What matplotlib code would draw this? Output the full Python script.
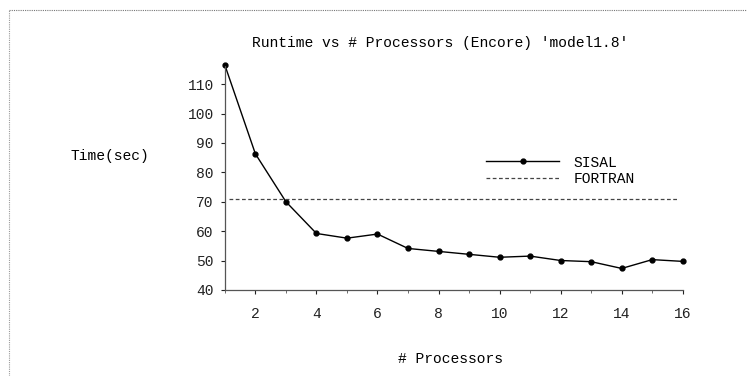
import matplotlib
matplotlib.use('Agg')
import matplotlib.pyplot as plt
from matplotlib.lines import Line2D

processors = [1, 2, 3, 4, 5, 6, 7, 8, 9, 10, 11, 12, 13, 14, 15, 16]
sisal_time = [116.5, 86.3, 70.0, 59.2, 57.6, 59.0, 54.1, 53.1, 52.1, 51.1, 51.5, 50.0, 49.6, 47.3, 50.3, 49.7]
fortran_time = 70.8
y_ticks = [40, 50, 60, 70, 80, 90, 100, 110]
x_ticks = [2, 4, 6, 8, 10, 12, 14, 16]

plt.rcParams['font.family'] = ['Liberation Mono', 'DejaVu Sans Mono']
fs = 10.5

fig = plt.figure(figsize=(7.47, 3.76), dpi=100)
ax = fig.add_axes([0.301, 0.229, 0.613, 0.598])

ax.plot(processors, sisal_time, color='black', lw=1, marker='o', ms=3.5, clip_on=False)
ax.axhline(fortran_time, xmin=0.01, xmax=0.99, color='#444444', lw=0.9, ls=(0, (3, 2)))

ax.set_xlim(1, 16)
ax.set_ylim(40, 116.5)
ax.set_xticks(x_ticks)
ax.set_xticklabels([str(v) for v in x_ticks], fontsize=fs)
ax.set_xticks(processors, minor=True)
ax.set_yticks(y_ticks)
ax.set_yticklabels([str(v) for v in y_ticks], fontsize=fs)
ax.tick_params(axis='both', which='major', direction='out', length=3, width=0.8, colors='#222222', pad=5)
ax.tick_params(axis='x', which='minor', direction='out', length=2, width=0.6, colors='#555555')
ax.tick_params(axis='x', which='major', pad=9)

for s in ['top', 'right']:
    ax.spines[s].set_visible(False)
ax.spines['left'].set_color('#555555')
ax.spines['left'].set_linestyle((0, (1, 1)))
ax.spines['left'].set_linewidth(0.9)
ax.spines['bottom'].set_color('#555555')
ax.spines['bottom'].set_linewidth(0.9)

fig.text(440 / 747, 1 - 43 / 376, "Runtime vs # Processors (Encore) 'model1.8'", ha='center', va='center', fontsize=fs)
fig.text(110 / 747, 1 - 156 / 376, "Time(sec)", ha='center', va='center', fontsize=fs)
fig.text(450 / 747, 1 - 359 / 376, "# Processors", ha='center', va='center', fontsize=fs)

handles = [Line2D([0], [0], color='black', lw=1, marker='o', ms=3.5, markevery=[1]),
           Line2D([0], [0], color='#444444', lw=0.9, ls=(0, (3, 2)))]
leg = ax.legend(handles, ['SISAL', 'FORTRAN'], loc='upper left', bbox_to_anchor=(0.555, 0.63),
                frameon=False, fontsize=fs, handlelength=5, handletextpad=1.0,
                labelspacing=0.2, borderpad=0)

# page frame lines
fig.add_artist(Line2D([9 / 747, 1], [1 - 10 / 376, 1 - 10 / 376], color='#777777', lw=0.8, ls=(0, (1, 1))))
fig.add_artist(Line2D([9 / 747, 9 / 747], [0, 1 - 10 / 376], color='#999999', lw=0.8, ls=(0, (1, 1))))

fig.savefig('out.png', dpi=100)
